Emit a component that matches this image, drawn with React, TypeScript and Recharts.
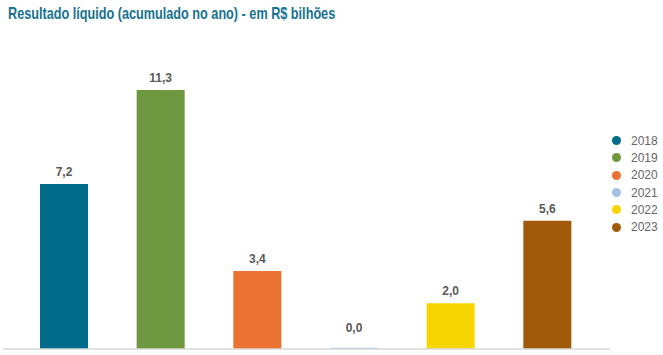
import React from "react";
import { BarChart, Bar, XAxis, YAxis, Cell, LabelList } from "recharts";

const years = ["2018", "2019", "2020", "2021", "2022", "2023"];
const values = [7.2, 11.3, 3.4, 0.06, 2.0, 5.6];
const labels = ["7,2", "11,3", "3,4", "0,0", "2,0", "5,6"];
const colors = ["#006B8A", "#6E983F", "#EA7233", "#A4C1E0", "#F7D500", "#A05A0A"];

const data = years.map((y, i) => ({ year: y, value: values[i], label: labels[i] }));

const renderLabel = (props: any) => {
  const { x, y, width, index } = props;
  const v = values[index];
  const off = v < 0.5 ? 16 : 8;
  return (
    <text
      x={x + width / 2}
      y={y - off}
      textAnchor="middle"
      fontFamily="Liberation Sans, Arial, sans-serif"
      fontWeight="bold"
      fontSize={12}
      fill="#595959"
    >
      {labels[index]}
    </text>
  );
};

export default function App() {
  return (
    <div style={{ position: "fixed", left: 0, top: 0, width: 663, height: 355, background: "#fff" }}>
      <div
        style={{
          position: "absolute",
          left: 8,
          top: 4,
          fontFamily: "Liberation Sans, Arial, sans-serif",
          fontWeight: "bold",
          fontSize: 17,
          color: "#17728F",
          whiteSpace: "nowrap",
          transform: "scaleX(0.745)",
          transformOrigin: "left top",
        }}
      >
        Resultado líquido (acumulado no ano) - em R$ bilhões
      </div>
      <BarChart width={663} height={355} data={data} margin={{ top: 74, right: 53, bottom: 5, left: 3 }}>
        <XAxis
          dataKey="year"
          tick={false}
          tickLine={false}
          axisLine={{ stroke: "#D9D9D9", strokeWidth: 1.5 }}
          height={1}
          padding={{ left: 13, right: 14 }}
        />
        <YAxis hide domain={[0, 12]} />
        <Bar dataKey="value" isAnimationActive={false} barSize={48}>
          {data.map((d, i) => (
            <Cell key={d.year} fill={colors[i]} />
          ))}
          <LabelList dataKey="value" content={renderLabel} />
        </Bar>
      </BarChart>
      <div
        style={{
          position: "absolute",
          left: 612,
          top: 132,
          width: 51,
          fontFamily: "Liberation Sans, Arial, sans-serif",
          fontSize: 12,
          color: "#666",
          whiteSpace: "nowrap",
        }}
      >
        {years.map((y, i) => (
          <div key={y} style={{ display: "flex", alignItems: "center", height: 17.3 }}>
            <span
              style={{
                display: "inline-block",
                flex: "none",
                width: 9,
                height: 9,
                borderRadius: "50%",
                background: colors[i],
                marginRight: 10,
              }}
            />
            {y}
          </div>
        ))}
      </div>
    </div>
  );
}
